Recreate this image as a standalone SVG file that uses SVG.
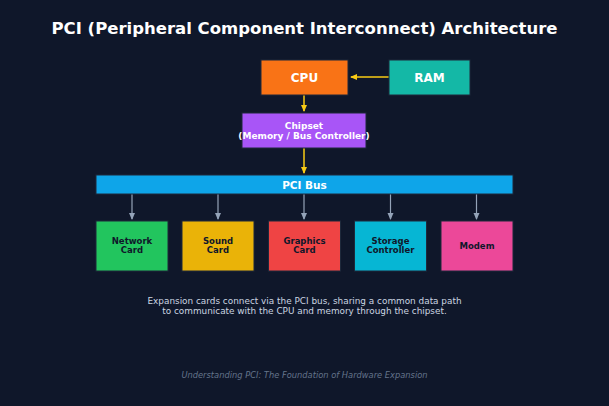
<svg xmlns="http://www.w3.org/2000/svg" width="609" height="406" viewBox="0 0 609 406">
<style>
text{font-family:"DejaVu Sans",sans-serif;text-anchor:middle}
.box{stroke:#1e293b;stroke-width:1}
.top{fill:#fff;font-weight:bold;font-size:12px}
.card{fill:#0f172a;font-weight:bold;font-size:8.5px}
.yl{stroke:#facc15;stroke-width:1.5;fill:none}
.gl{stroke:#94a3b8;stroke-width:1.2;fill:none}
</style>
<defs>
<marker id="ay" markerWidth="8" markerHeight="8" refX="6" refY="4" orient="auto" markerUnits="userSpaceOnUse"><path d="M0,1 L7,4 L0,7 Z" fill="#facc15"/></marker>
<marker id="ag" markerWidth="8" markerHeight="8" refX="6" refY="4" orient="auto" markerUnits="userSpaceOnUse"><path d="M0,1 L7,4 L0,7 Z" fill="#94a3b8"/></marker>
</defs>
<rect width="609" height="406" fill="#0f172a"/>
<text x="304.5" y="34" fill="#fff" font-weight="bold" font-size="16.5">PCI (Peripheral Component Interconnect) Architecture</text>
<g id="connectors">
<line class="yl" x1="389" y1="77" x2="351" y2="77" marker-end="url(#ay)"/>
<line class="yl" x1="304" y1="94" x2="304" y2="111" marker-end="url(#ay)"/>
<line class="yl" x1="304" y1="148" x2="304" y2="173" marker-end="url(#ay)"/>
<line class="gl" x1="132" y1="194" x2="132" y2="219" marker-end="url(#ag)"/>
<line class="gl" x1="218" y1="194" x2="218" y2="219" marker-end="url(#ag)"/>
<line class="gl" x1="304" y1="194" x2="304" y2="219" marker-end="url(#ag)"/>
<line class="gl" x1="390.5" y1="194" x2="390.5" y2="219" marker-end="url(#ag)"/>
<line class="gl" x1="476.5" y1="194" x2="476.5" y2="219" marker-end="url(#ag)"/>
</g>
<g id="cpu"><rect class="box" x="261" y="60" width="87" height="35" fill="#f97316"/><text class="top" x="304.5" y="81.5">CPU</text></g>
<g id="ram"><rect class="box" x="389" y="60" width="81" height="35" fill="#14b8a6"/><text class="top" x="429.5" y="81.5">RAM</text></g>
<g id="chipset"><rect class="box" x="242" y="113" width="124" height="35" fill="#a855f7"/><text x="304" y="129" fill="#fff" font-weight="bold" font-size="9">Chipset</text><text x="304" y="138.5" fill="#fff" font-weight="bold" font-size="9">(Memory / Bus Controller)</text></g>
<g id="pcibus"><rect class="box" x="96" y="175" width="417" height="19" fill="#0ea5e9"/><text x="304.5" y="188.5" fill="#fff" font-weight="bold" font-size="10.5">PCI Bus</text></g>
<g id="network"><rect class="box" x="96" y="221" width="72" height="50" fill="#22c55e"/><text class="card" x="132" y="244">Network</text><text class="card" x="132" y="253">Card</text></g>
<g id="sound"><rect class="box" x="182" y="221" width="72" height="50" fill="#eab308"/><text class="card" x="218" y="244">Sound</text><text class="card" x="218" y="253">Card</text></g>
<g id="graphics"><rect class="box" x="268.5" y="221" width="72" height="50" fill="#ef4444"/><text class="card" x="304.5" y="244">Graphics</text><text class="card" x="304.5" y="253">Card</text></g>
<g id="storage"><rect class="box" x="354.5" y="221" width="72" height="50" fill="#06b6d4"/><text class="card" x="390.5" y="244">Storage</text><text class="card" x="390.5" y="253">Controller</text></g>
<g id="modem"><rect class="box" x="441" y="221" width="72" height="50" fill="#ec4899"/><text class="card" x="477" y="248.5">Modem</text></g>
<text x="304.5" y="304" fill="#cbd5e1" font-size="8.9">Expansion cards connect via the PCI bus, sharing a common data path</text>
<text x="304.5" y="314" fill="#cbd5e1" font-size="8.9">to communicate with the CPU and memory through the chipset.</text>
<text x="304.5" y="378" fill="#64748b" font-size="8.3" font-style="italic">Understanding PCI: The Foundation of Hardware Expansion</text>
</svg>
